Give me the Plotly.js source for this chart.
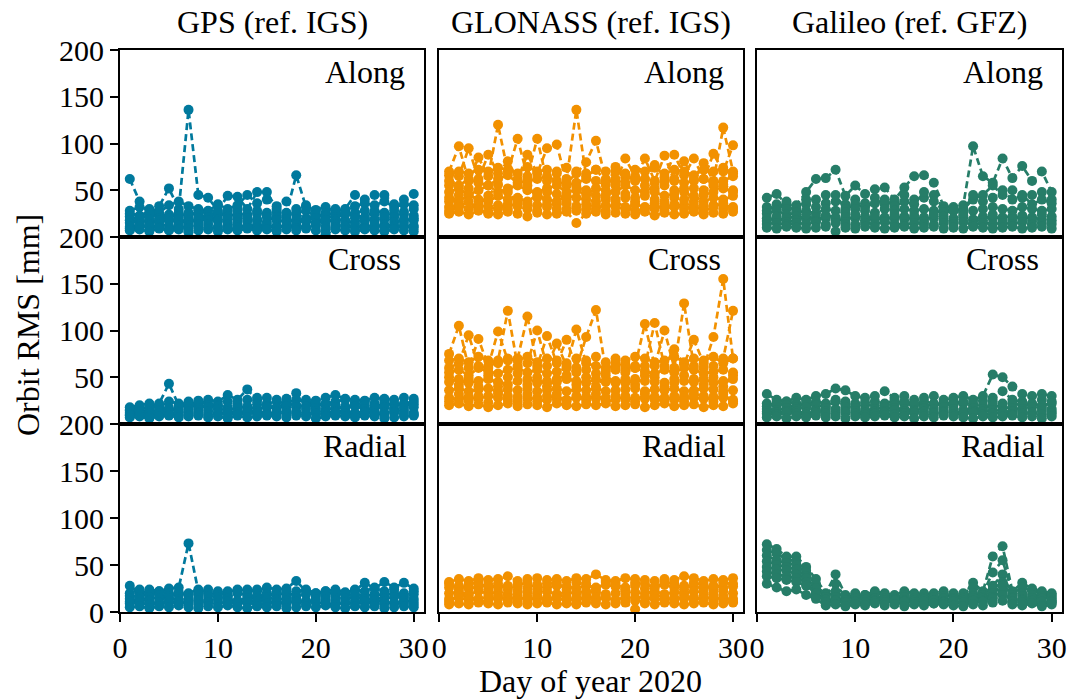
<!DOCTYPE html>
<html>
<head>
<meta charset="utf-8">
<script src="https://cdn.plot.ly/plotly-3.0.1.min.js"></script>
<style>html,body{margin:0;padding:0;background:#fff;}#chart{width:1074px;height:700px;}</style>
</head>
<body>
<div id="chart"></div>
<script>
// ---- data ----
const days = [1,2,3,4,5,6,7,8,9,10,11,12,13,14,15,16,17,18,19,20,21,22,23,24,25,26,27,28,29,30];

const columnTitles = ["GPS (ref. IGS)", "GLONASS (ref. IGS)", "Galileo (ref. GFZ)"];
const rowLabels = ["Along", "Cross", "Radial"];
const yTicksUpper = [50, 100, 150, 200];
const yTicksBottom = [0, 50, 100, 150, 200];
const xTicks = [0, 10, 20, 30];

// GPS (ref. IGS)
const gpsAlong = [
  [62,38,24,33,52,30,136,45,42,28,44,43,30,48,48,30,26,66,32,29,32,27,30,45,40,45,45,35,40,46],
  [28,32,30,26,34,38,33,30,28,35,30,34,45,36,40,33,38,30,34,28,26,30,28,33,36,34,38,32,35,34],
  [25,23,27,24,22,26,21,28,25,23,27,29,22,25,24,27,23,26,28,22,25,24,26,23,21,28,26,24,27,23],
  [22,18,25,20,24,22,26,24,20,26,22,25,24,28,26,22,25,24,20,24,22,21,24,26,28,25,24,28,24,30],
  [18,15,19,16,20,14,18,16,21,19,15,20,17,19,16,21,19,15,18,20,16,19,18,15,20,17,19,21,16,20],
  [15,20,14,18,17,19,16,20,18,17,19,16,20,17,21,18,16,19,17,15,18,17,16,20,17,19,21,16,19,18],
  [11,13,10,13,12,9,12,11,14,10,13,12,11,13,10,12,11,13,10,12,11,13,12,10,12,11,13,12,11,12],
  [9,11,12,10,8,12,9,13,10,11,9,10,12,9,13,10,12,9,11,13,8,10,11,12,9,13,10,11,12,10],
  [7,8,6,9,7,8,5,7,8,6,8,7,9,7,8,6,8,7,9,7,3,8,7,6,8,7,6,8,7,6]
];
const gpsCross = [
  [14,16,18,22,43,20,24,20,26,24,31,26,37,25,28,26,27,33,26,25,28,31,27,26,25,28,27,26,28,27],
  [18,20,22,18,24,22,20,25,22,20,24,22,26,28,22,24,22,26,24,20,22,24,26,22,24,22,25,20,22,24],
  [15,18,16,20,14,18,21,17,20,19,18,20,16,21,19,18,22,20,19,22,20,21,19,22,20,19,21,22,20,21],
  [12,14,13,15,17,14,16,15,18,16,15,17,19,16,18,17,19,18,16,17,15,18,17,19,16,17,18,16,17,18],
  [10,12,11,13,12,10,13,12,14,11,13,12,14,13,12,11,14,13,12,14,12,13,14,12,13,14,12,13,14,12],
  [9,10,8,11,10,12,9,11,10,12,11,10,12,11,10,13,11,12,10,11,9,12,11,10,12,11,10,12,11,10],
  [7,8,6,8,9,7,8,9,7,8,6,9,7,8,9,8,7,9,8,6,8,9,8,7,9,8,6,7,8,9]
];
const gpsRadial = [
  [28,20,24,22,25,26,73,22,24,20,22,23,24,22,26,24,25,33,22,20,22,24,21,23,31,25,32,26,31,25],
  [20,24,18,22,20,18,20,24,20,22,18,24,20,24,20,22,18,22,24,20,22,18,20,24,22,26,22,24,20,22],
  [17,16,20,18,17,21,18,19,17,19,16,20,18,17,19,18,21,17,19,18,17,20,18,19,17,19,18,20,17,19],
  [14,12,16,14,15,13,14,15,13,16,14,12,15,14,16,13,15,14,12,16,13,15,14,16,13,15,14,16,15,14],
  [11,13,12,8,12,9,11,12,11,13,9,10,12,11,13,8,12,10,11,13,10,12,9,12,10,12,11,9,12,11],
  [9,10,8,10,9,11,9,8,10,9,11,9,10,8,9,10,9,11,8,10,9,8,10,9,11,8,9,10,9,8],
  [5,6,4,6,5,7,5,4,6,5,7,5,4,6,5,6,4,5,6,5,7,5,4,6,5,6,4,5,6,5]
];

// GLONASS (ref. IGS)
const gloAlong = [
  [70,97,60,85,65,120,70,105,65,105,60,70,62,136,65,72,60,70,64,62,84,60,87,60,81,62,79,60,117,70],
  [55,65,95,62,88,68,81,62,88,68,95,99,58,68,80,103,62,58,84,65,62,77,64,88,66,84,62,89,70,98],
  [66,70,68,72,70,74,72,68,75,70,72,68,74,70,68,72,70,75,68,72,70,74,68,72,70,66,72,70,74,68],
  [60,55,62,58,55,62,66,58,60,62,65,60,55,58,62,60,56,62,58,60,62,58,60,62,58,60,62,58,60,65],
  [48,52,45,50,55,48,52,55,50,48,52,55,48,50,45,52,50,48,55,50,48,52,55,50,48,52,50,55,52,48],
  [38,45,52,35,44,56,48,36,55,42,48,46,40,54,50,44,40,55,46,42,55,48,44,46,52,38,45,48,56,50],
  [42,38,45,40,38,44,40,42,38,45,40,38,44,42,40,38,45,40,42,38,44,40,38,42,40,44,38,42,40,44],
  [32,35,30,34,32,30,35,33,30,34,32,35,30,33,35,30,34,32,30,35,32,30,34,32,35,30,33,34,30,32],
  [28,32,38,30,25,34,30,38,35,28,35,30,36,28,30,34,28,38,32,28,30,36,28,35,30,34,28,32,36,30],
  [25,27,24,28,26,24,27,25,22,26,24,25,27,15,25,27,24,26,25,24,27,23,26,24,25,27,24,26,25,27]
];
const gloCross = [
  [75,105,60,91,62,99,68,70,115,62,94,65,90,60,93,122,58,65,60,62,107,62,100,60,129,62,60,93,155,70],
  [60,65,95,62,60,68,121,62,65,100,62,86,62,101,65,62,60,62,64,60,62,108,62,80,64,90,65,62,70,121],
  [68,70,66,72,68,65,70,68,72,66,70,68,65,70,68,72,66,70,68,72,70,66,68,72,66,70,68,72,65,70],
  [55,58,52,60,56,54,58,60,55,58,54,56,60,55,58,54,56,58,55,60,56,54,58,55,60,58,54,56,58,55],
  [50,42,48,40,52,40,50,54,42,50,40,48,52,42,50,40,52,44,48,42,52,50,40,44,52,48,42,50,40,52],
  [45,48,44,46,48,45,42,46,48,44,46,45,48,46,44,48,45,46,44,48,46,45,44,48,46,45,48,44,46,48],
  [36,38,35,37,38,35,37,36,38,35,36,38,35,37,36,38,35,36,37,38,35,37,36,38,35,36,38,37,35,36],
  [28,26,29,27,30,28,26,29,27,28,30,27,26,28,29,27,28,30,26,28,27,29,28,26,30,28,27,29,28,26],
  [24,32,25,30,23,32,30,24,32,24,26,32,24,30,25,32,24,26,30,24,32,26,25,30,24,32,30,24,32,24],
  [20,22,19,21,18,20,22,19,21,20,18,22,20,19,21,20,22,19,20,21,18,20,22,19,20,21,18,20,19,22]
];
const gloRadial = [
  [32,35,33,36,34,35,38,33,35,36,34,35,33,36,35,40,34,33,36,35,34,33,35,34,38,36,33,35,34,36],
  [30,24,29,32,24,30,24,29,31,24,30,31,24,31,30,24,32,30,24,31,30,26,32,30,24,31,29,24,31,30],
  [26,28,25,27,29,26,28,27,25,29,26,28,27,25,28,26,29,27,26,28,25,27,29,26,28,27,25,28,26,27],
  [20,21,19,22,20,21,19,22,21,20,22,19,21,20,22,21,19,20,22,21,20,22,19,21,20,22,21,19,22,20],
  [11,18,17,12,11,17,12,18,11,17,12,18,16,11,18,12,17,11,18,12,11,18,16,12,17,11,18,12,17,11],
  [14,15,13,14,16,14,15,13,16,14,15,14,13,15,14,16,15,13,14,15,16,14,13,15,14,16,14,15,13,14],
  [8,9,8,10,9,8,10,9,8,9,10,8,9,8,10,9,8,9,10,3,9,8,10,9,8,9,10,8,9,10]
];

// Galileo (ref. GFZ)
const galAlong = [
  [42,46,35,34,48,62,63,72,44,55,46,51,53,40,53,65,66,58,33,32,34,97,65,58,84,63,76,60,70,48],
  [32,30,38,28,35,40,45,38,35,40,36,42,35,38,45,40,42,45,30,28,30,40,45,55,45,50,42,45,48,40],
  [28,35,30,31,40,32,36,45,30,35,32,36,40,33,38,35,48,38,28,30,28,45,38,42,50,40,45,35,40,36],
  [25,28,24,26,28,25,30,28,26,30,28,26,30,28,30,28,30,28,26,28,26,28,30,32,30,28,32,30,28,30],
  [20,18,20,22,19,21,20,18,21,20,22,19,21,20,22,19,21,20,22,20,21,19,22,20,21,22,20,21,19,22],
  [17,22,16,18,24,17,23,21,16,24,18,22,17,24,19,23,17,24,18,16,23,17,18,24,17,19,23,17,24,18],
  [14,15,13,15,14,16,13,15,14,13,15,14,16,14,13,15,14,13,15,14,16,13,15,14,15,14,16,13,15,14],
  [10,9,11,10,9,10,11,6,10,9,11,10,9,10,11,9,10,11,9,10,9,11,10,9,10,11,9,10,11,9]
];
const galCross = [
  [32,26,24,28,26,30,32,38,36,30,28,30,35,28,30,26,28,30,26,28,30,26,30,53,50,40,32,30,32,30],
  [22,20,24,22,20,24,22,26,24,22,20,24,22,25,22,20,24,22,20,24,22,20,25,28,35,26,24,22,26,24],
  [19,22,20,18,23,20,19,24,21,19,23,20,21,20,24,22,19,21,22,20,24,22,20,24,22,22,20,21,20,22],
  [16,15,17,16,18,15,17,16,18,17,15,16,18,17,16,15,17,16,18,16,15,17,16,20,18,17,16,18,17,16],
  [13,12,14,13,12,14,13,15,13,14,12,13,14,15,13,14,13,12,14,13,12,14,13,15,14,13,14,12,14,13],
  [11,10,12,11,10,12,11,10,12,11,10,11,12,10,11,12,10,11,12,10,11,12,10,11,12,10,11,12,10,11],
  [7,8,6,8,7,9,7,8,6,8,7,8,9,7,8,6,8,7,9,8,7,6,8,7,8,9,7,8,6,8]
];
const galRadial = [
  [72,67,59,59,48,35,20,40,18,20,18,22,20,18,22,20,18,20,22,20,18,31,22,59,70,22,31,25,22,20],
  [66,62,56,54,44,28,18,30,16,18,14,20,18,15,18,16,20,18,20,16,20,26,20,42,55,20,26,22,20,18],
  [60,55,52,50,42,30,16,22,15,16,18,15,17,16,15,18,16,15,17,18,16,20,18,28,40,18,20,18,17,16],
  [54,50,48,45,38,22,12,14,13,12,16,14,12,14,16,12,14,16,12,15,14,17,16,24,32,16,17,14,16,14],
  [48,45,44,40,36,25,13,16,12,14,13,12,14,13,12,14,13,12,14,13,12,15,14,20,28,14,13,15,14,12],
  [43,40,38,36,32,18,9,11,9,10,9,10,12,10,9,12,10,9,11,10,9,10,12,16,22,10,12,10,9,11],
  [38,36,34,32,28,20,10,12,10,11,10,11,10,12,11,10,11,12,10,11,10,12,11,14,18,11,10,12,11,10],
  [30,26,22,24,18,14,7,8,6,8,7,9,7,8,6,8,7,9,8,7,6,8,7,10,12,8,7,9,6,8]
];

const colors = ["#00799d", "#f29100", "#267d68"];
const panels = [
  [gpsAlong, gloAlong, galAlong],
  [gpsCross, gloCross, galCross],
  [gpsRadial, gloRadial, galRadial]
];

// ---- layout geometry ----
const W = 1074, H = 700;
const colPx = [[120, 424], [439.3, 743.3], [757, 1062]];
const rowPx = [[50, 237], [237, 424], [424, 612]];
const FONT = "'Liberation Serif', serif";

const traces = [];
const layout = {
  width: W, height: H,
  margin: {l: 0, r: 0, t: 0, b: 0},
  paper_bgcolor: "#fff", plot_bgcolor: "#fff",
  showlegend: false,
  font: {family: FONT, size: 30, color: "#000"},
  annotations: []
};

for (let r = 0; r < 3; r++) {
  for (let c = 0; c < 3; c++) {
    const k = r * 3 + c + 1;
    const xa = "x" + (k === 1 ? "" : k);
    const ya = "y" + (k === 1 ? "" : k);
    panels[r][c].forEach(series => {
      traces.push({
        type: "scatter", mode: "lines+markers",
        x: days, y: series,
        xaxis: xa, yaxis: ya,
        line: {color: colors[c], width: 2.7, dash: "7px,4px"},
        marker: {color: colors[c], size: 10},
        hoverinfo: "skip"
      });
    });
    const xd = [colPx[c][0] / W, colPx[c][1] / W];
    const yd = [1 - rowPx[r][1] / H, 1 - rowPx[r][0] / H];
    const bottom = r === 2, left = c === 0;
    layout["xaxis" + (k === 1 ? "" : k)] = {
      domain: xd, anchor: ya, range: [0, 31.05],
      showline: true, mirror: true, linecolor: "#000", linewidth: 2,
      showgrid: false, zeroline: false,
      ticks: bottom ? "outside" : "", ticklen: 8, tickwidth: 2, tickcolor: "#000",
      tickmode: "array", tickvals: xTicks, showticklabels: bottom,
      tickfont: {family: FONT, size: 30, color: "#000"},
      automargin: false, fixedrange: true
    };
    layout["yaxis" + (k === 1 ? "" : k)] = {
      domain: yd, anchor: xa, range: [0, 200],
      showline: true, mirror: true, linecolor: "#000", linewidth: 2,
      showgrid: false, zeroline: false,
      ticks: left ? "outside" : "", ticklen: 8, tickwidth: 2, tickcolor: "#000",
      tickmode: "array", tickvals: bottom ? yTicksBottom : yTicksUpper,
      showticklabels: left,
      tickfont: {family: FONT, size: 30, color: "#000"},
      automargin: false, fixedrange: true
    };
    layout.annotations.push({
      xref: xa + " domain", yref: ya + " domain",
      x: 0.805, y: 1 - 22 / 187, xanchor: "center", yanchor: "middle",
      text: rowLabels[r], showarrow: false,
      font: {family: FONT, size: 32, color: "#000"}
    });
  }
}

columnTitles.forEach((t, c) => {
  layout.annotations.push({
    xref: "paper", yref: "paper",
    x: (colPx[c][0] + colPx[c][1]) / 2 / W, y: 1 - 22 / H,
    xanchor: "center", yanchor: "middle",
    text: t, showarrow: false,
    font: {family: FONT, size: 32, color: "#000"}
  });
});

layout.annotations.push({
  xref: "paper", yref: "paper", x: 28 / W, y: 1 - 325 / H,
  xanchor: "center", yanchor: "middle", textangle: -90,
  text: "Orbit RMS [mm]", showarrow: false,
  font: {family: FONT, size: 32, color: "#000"}
});
layout.annotations.push({
  xref: "paper", yref: "paper", x: 590 / W, y: 1 - 681 / H,
  xanchor: "center", yanchor: "middle",
  text: "Day of year 2020", showarrow: false,
  font: {family: FONT, size: 32, color: "#000"}
});

Plotly.newPlot("chart", traces, layout, {displayModeBar: false, staticPlot: true});
</script>
</body>
</html>
